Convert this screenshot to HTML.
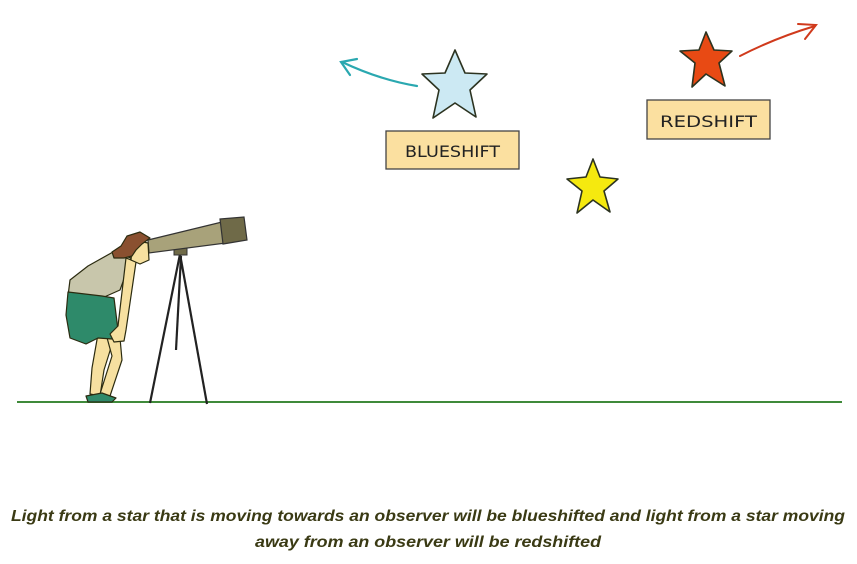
<!DOCTYPE html>
<html><head><meta charset="utf-8"><style>
html,body{margin:0;padding:0;background:#fff;width:857px;height:564px;overflow:hidden}
</style></head><body>
<svg width="857" height="564" viewBox="0 0 857 564" xmlns="http://www.w3.org/2000/svg">
<rect width="857" height="564" fill="#fff"/>
<line x1="17" y1="402" x2="842" y2="402" stroke="#3f8a3a" stroke-width="2"/>
<g stroke="#222" stroke-width="2.2" fill="none">
<line x1="180" y1="254" x2="150" y2="403"/>
<line x1="180" y1="254" x2="207" y2="404"/>
<line x1="181" y1="256" x2="176" y2="350"/>
</g>
<rect x="174" y="247" width="13" height="8" fill="#6f6a48" stroke="#333" stroke-width="1"/>
<polygon points="148,240 222,222 226,243 149,253" fill="#a8a27a" stroke="#333" stroke-width="1.2"/>
<polygon points="220,219 244,217 247,240 223,244" fill="#6f6a48" stroke="#333" stroke-width="1.2"/>
<g stroke="#2b2b10" stroke-width="1.2" stroke-linejoin="round">
<path d="M98,334 L92,368 L90,394 L100,396 L104,370 L114,338 Z" fill="#f6e0a0"/>
<path d="M106,334 L112,356 L100,394 L110,396 L122,360 L120,338 Z" fill="#f6e0a0"/>
<path d="M86,396 L102,393 L116,398 L112,402 L88,402 Z" fill="#2f8a6a"/>
<path d="M113,252 L131,258 L128,268 L120,290 L102,298 L68,296 L70,280 L88,266 Z" fill="#c8c6ab"/>
<path d="M68,292 L102,296 L114,298 L118,330 L112,339 L98,338 L86,344 L70,338 L66,315 Z" fill="#2e8a6a"/>
<path d="M126,258 L136,262 L126,330 L124,341 L114,342 L110,334 L118,326 Z" fill="#f6e0a0"/>
<path d="M133,240 L148,243 L149,260 L140,264 L131,260 Z" fill="#f6e0a0"/>
<path d="M112,252 L121,246 L127,236 L140,232 L150,238 L142,244 L136,250 L132,256 L124,258 L114,258 Z" fill="#8a5030"/>
</g>
<polygon points="455,50 465,73 487,74 470,90 476,117 455,103 433,118 439,90 422,74 445,73" fill="#cce9f3" stroke="#2c3320" stroke-width="1.6" stroke-linejoin="round"/>
<polygon points="706,32 714,50 732,51 719,63 725,86 706,74 692,87 695,63 680,51 699,50" fill="#e84a14" stroke="#2c3320" stroke-width="1.6" stroke-linejoin="round"/>
<polygon points="593,159 600,177 618,179 604,191 610,212 593,200 577,213 582,191 567,179 586,177" fill="#f5e90f" stroke="#2c3320" stroke-width="1.6" stroke-linejoin="round"/>
<path d="M417,86 Q380,80 342,62" stroke="#2aa8b0" stroke-width="2.2" fill="none" stroke-linecap="round"/>
<path d="M357,59 L341,62 L350,75" stroke="#2aa8b0" stroke-width="2.2" fill="none" stroke-linecap="round"/>
<path d="M740,56 Q775,38 815,26" stroke="#d03a1c" stroke-width="2" fill="none" stroke-linecap="round"/>
<path d="M798,24 L816,25 L805,39" stroke="#d03a1c" stroke-width="2" fill="none" stroke-linecap="round"/>
<rect x="386" y="131" width="133" height="38" fill="#fbe0a0" stroke="#444" stroke-width="1.3"/>
<text x="452.5" y="157" text-anchor="middle" font-family="DejaVu Sans, sans-serif" font-size="16" fill="#222" textLength="95" lengthAdjust="spacingAndGlyphs">BLUESHIFT</text>
<rect x="647" y="100" width="123" height="39" fill="#fbe0a0" stroke="#444" stroke-width="1.3"/>
<text x="708.5" y="127" text-anchor="middle" font-family="DejaVu Sans, sans-serif" font-size="16" fill="#222" textLength="97" lengthAdjust="spacingAndGlyphs">REDSHIFT</text>
<text x="428" y="521" text-anchor="middle" font-family="Liberation Sans, sans-serif" font-style="italic" font-weight="bold" font-size="15.5" fill="#3a3a14" textLength="834" lengthAdjust="spacingAndGlyphs">Light from a star that is moving towards an observer will be blueshifted and light from a star moving</text>
<text x="428" y="547" text-anchor="middle" font-family="Liberation Sans, sans-serif" font-style="italic" font-weight="bold" font-size="15.5" fill="#3a3a14" textLength="346" lengthAdjust="spacingAndGlyphs">away from an observer will be redshifted</text>
</svg>
</body></html>
